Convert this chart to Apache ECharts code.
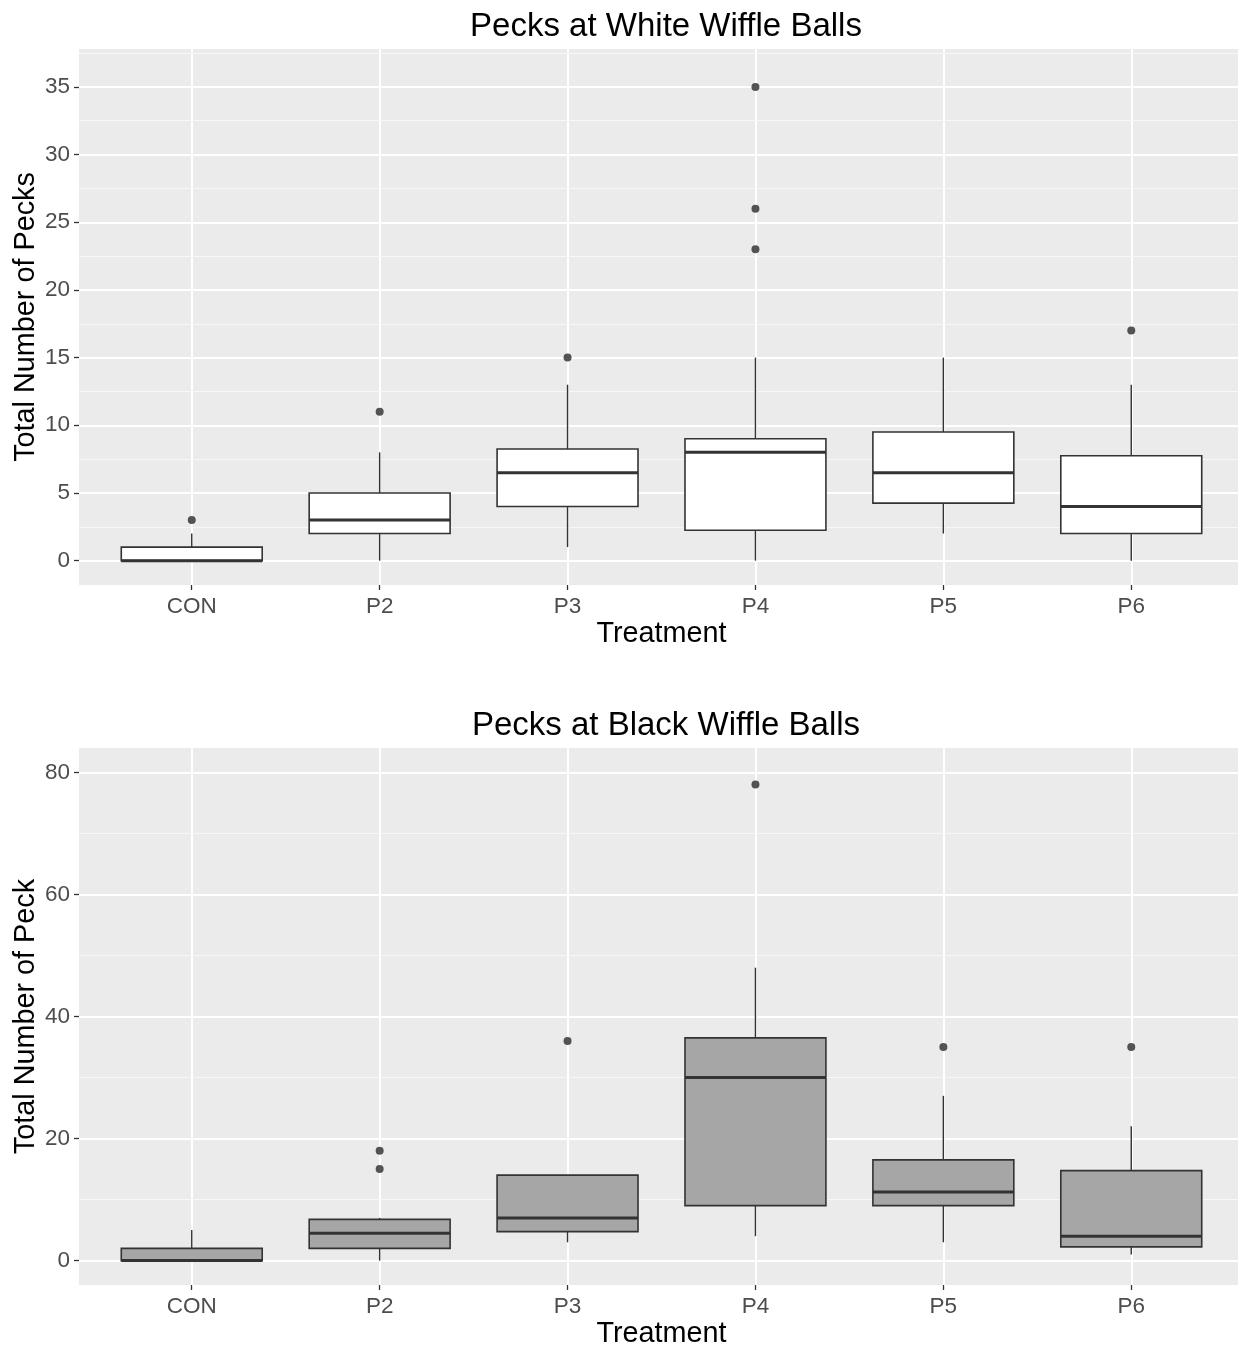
<!DOCTYPE html>
<html>
<head>
<meta charset="utf-8">
<script src="https://cdn.jsdelivr.net/npm/echarts@6/dist/echarts.min.js"></script>
<style>
html,body{margin:0;padding:0;background:#fff;}
#chart{width:1238px;height:1345px;}
</style>
</head>
<body>
<div id="chart"></div>
<script>
// ---- data ----
const categories = ['CON', 'P2', 'P3', 'P4', 'P5', 'P6'];

// [min, Q1, median, Q3, max] per category
const whiteStats = [
  [0, 0, 0, 1, 2],
  [0, 2, 3, 5, 8],
  [1, 4, 6.5, 8.25, 13],
  [0, 2.25, 8, 9, 15],
  [2, 4.25, 6.5, 9.5, 15],
  [0, 2, 4, 7.75, 13]
];
const whiteOutliers = [[3], [11], [15], [23, 26, 35], [], [17]];

const blackStats = [
  [0, 0, 0, 2, 5],
  [0, 2, 4.5, 6.75, 7],
  [3, 4.75, 7, 14, 14],
  [4, 9, 30, 36.5, 48],
  [3, 9, 11.25, 16.5, 27],
  [1, 2.25, 4, 14.75, 22]
];
const blackOutliers = [[], [15, 18], [36], [78], [35], [35]];

const whiteTicks = [0, 5, 10, 15, 20, 25, 30, 35];
const whiteMinor = [2.5, 7.5, 12.5, 17.5, 22.5, 27.5, 32.5, 37.5];
const blackTicks = [0, 20, 40, 60, 80];
const blackMinor = [10, 30, 50, 70];

// ---- chart ----
const FONT = 'Liberation Sans, Arial, sans-serif';
const chart = echarts.init(document.getElementById('chart'), null, {renderer: 'canvas'});

function boxData(stats) {
  return stats.map((s, i) => [i].concat(s));
}
function outlierData(out) {
  const arr = [];
  out.forEach((vals, i) => vals.forEach(v => arr.push([i, v])));
  return arr;
}
function renderBox(fill) {
  return function (params, api) {
    const x = api.value(0);
    const lo = api.coord([x, api.value(1)]);
    const q1 = api.coord([x, api.value(2)]);
    const md = api.coord([x, api.value(3)]);
    const q3 = api.coord([x, api.value(4)]);
    const hi = api.coord([x, api.value(5)]);
    const w = api.size([0.75, 0])[0];
    const cx = lo[0];
    const lineStyle = {stroke: '#333333', lineWidth: 1.4};
    return {
      type: 'group',
      children: [
        {type: 'line', shape: {x1: cx, y1: hi[1], x2: cx, y2: q3[1]}, style: lineStyle},
        {type: 'line', shape: {x1: cx, y1: q1[1], x2: cx, y2: lo[1]}, style: lineStyle},
        {type: 'rect', shape: {x: cx - w / 2, y: q3[1], width: w, height: q1[1] - q3[1]},
          style: {fill: fill, stroke: '#333333', lineWidth: 1.6}},
        {type: 'line', shape: {x1: cx - w / 2, y1: md[1], x2: cx + w / 2, y2: md[1]},
          style: {stroke: '#333333', lineWidth: 3}}
      ]
    };
  };
}

const grids = [
  {left: 79, width: 1165, top: 49, height: 536},
  {left: 79, width: 1165, top: 748, height: 537}
];
grids.forEach(g => {
  g.show = true; g.backgroundColor = '#EBEBEB'; g.borderWidth = 0;
  g.containLabel = false; g.outerBoundsMode = 'none';
});

const TITLE_SIZE = 28.8;
const TICK_SIZE = 22.5;

function xAxisFor(gi) {
  return {
    type: 'value', gridIndex: gi, min: -0.6, max: 5.6, position: 'bottom',
    name: 'Treatment', nameLocation: 'middle', nameGap: 35,
    nameTextStyle: {fontFamily: FONT, fontSize: TITLE_SIZE, color: '#000'},
    axisLine: {show: false, onZero: false},
    axisTick: {show: true, length: 5, lineStyle: {color: '#333333', width: 1.3}, customValues: [0, 1, 2, 3, 4, 5]},
    axisLabel: {show: true, margin: 10.5, fontFamily: FONT, fontSize: TICK_SIZE, color: '#4D4D4D',
      customValues: [0, 1, 2, 3, 4, 5], formatter: v => categories[Math.round(v)]},
    splitLine: {show: true, lineStyle: {color: '#ffffff', width: 2}},
    minorSplitLine: {show: false}
  };
}
function yAxesFor(gi, min, max, ticks, minor, name) {
  return [
    {
      type: 'value', gridIndex: gi, min: min, max: max, position: 'left',
      name: name, nameLocation: 'middle', nameGap: 38, nameMoveOverlap: false,
      nameTextStyle: {fontFamily: FONT, fontSize: TITLE_SIZE, color: '#000'},
      axisLine: {show: false, onZero: false},
      axisTick: {show: true, length: 5, lineStyle: {color: '#333333', width: 1.3}, customValues: ticks},
      axisLabel: {show: true, margin: 9, fontFamily: FONT, fontSize: TICK_SIZE, color: '#4D4D4D', customValues: ticks},
      splitLine: {show: true, lineStyle: {color: '#ffffff', width: 2}},
      z: 2
    },
    {
      type: 'value', gridIndex: gi, min: min, max: max, position: 'left',
      axisLine: {show: false, onZero: false},
      axisTick: {show: false, customValues: minor},
      axisLabel: {show: false, customValues: minor},
      splitLine: {show: true, lineStyle: {color: '#F7F7F7', width: 1.2}},
      z: 1
    }
  ];
}

const option = {
  animation: false,
  backgroundColor: '#ffffff',
  title: [
    {text: 'Pecks at White Wiffle Balls', left: 661, top: 5, textAlign: 'center',
      textStyle: {fontFamily: FONT, fontSize: 33, fontWeight: 'normal', color: '#000'}},
    {text: 'Pecks at Black Wiffle Balls', left: 661, top: 704, textAlign: 'center',
      textStyle: {fontFamily: FONT, fontSize: 33, fontWeight: 'normal', color: '#000'}}
  ],
  grid: grids,
  xAxis: [xAxisFor(0), xAxisFor(1)],
  yAxis: yAxesFor(0, -1.8, 37.8, whiteTicks, whiteMinor, 'Total Number of Pecks')
    .concat(yAxesFor(1, -4, 84, blackTicks, blackMinor, 'Total Number of Peck')),
  series: [
    {type: 'custom', name: 'White', xAxisIndex: 0, yAxisIndex: 0, data: boxData(whiteStats),
      renderItem: renderBox('#ffffff'), encode: {x: 0, y: [1, 2, 3, 4, 5]}, z: 3},
    {type: 'scatter', name: 'White outliers', xAxisIndex: 0, yAxisIndex: 0, data: outlierData(whiteOutliers),
      symbol: 'circle', symbolSize: 8, itemStyle: {color: '#2B2B2B'}, z: 4},
    {type: 'custom', name: 'Black', xAxisIndex: 1, yAxisIndex: 2, data: boxData(blackStats),
      renderItem: renderBox('#A6A6A6'), encode: {x: 0, y: [1, 2, 3, 4, 5]}, z: 3},
    {type: 'scatter', name: 'Black outliers', xAxisIndex: 1, yAxisIndex: 2, data: outlierData(blackOutliers),
      symbol: 'circle', symbolSize: 8, itemStyle: {color: '#2B2B2B'}, z: 4}
  ]
};
chart.setOption(option);
</script>
</body>
</html>
